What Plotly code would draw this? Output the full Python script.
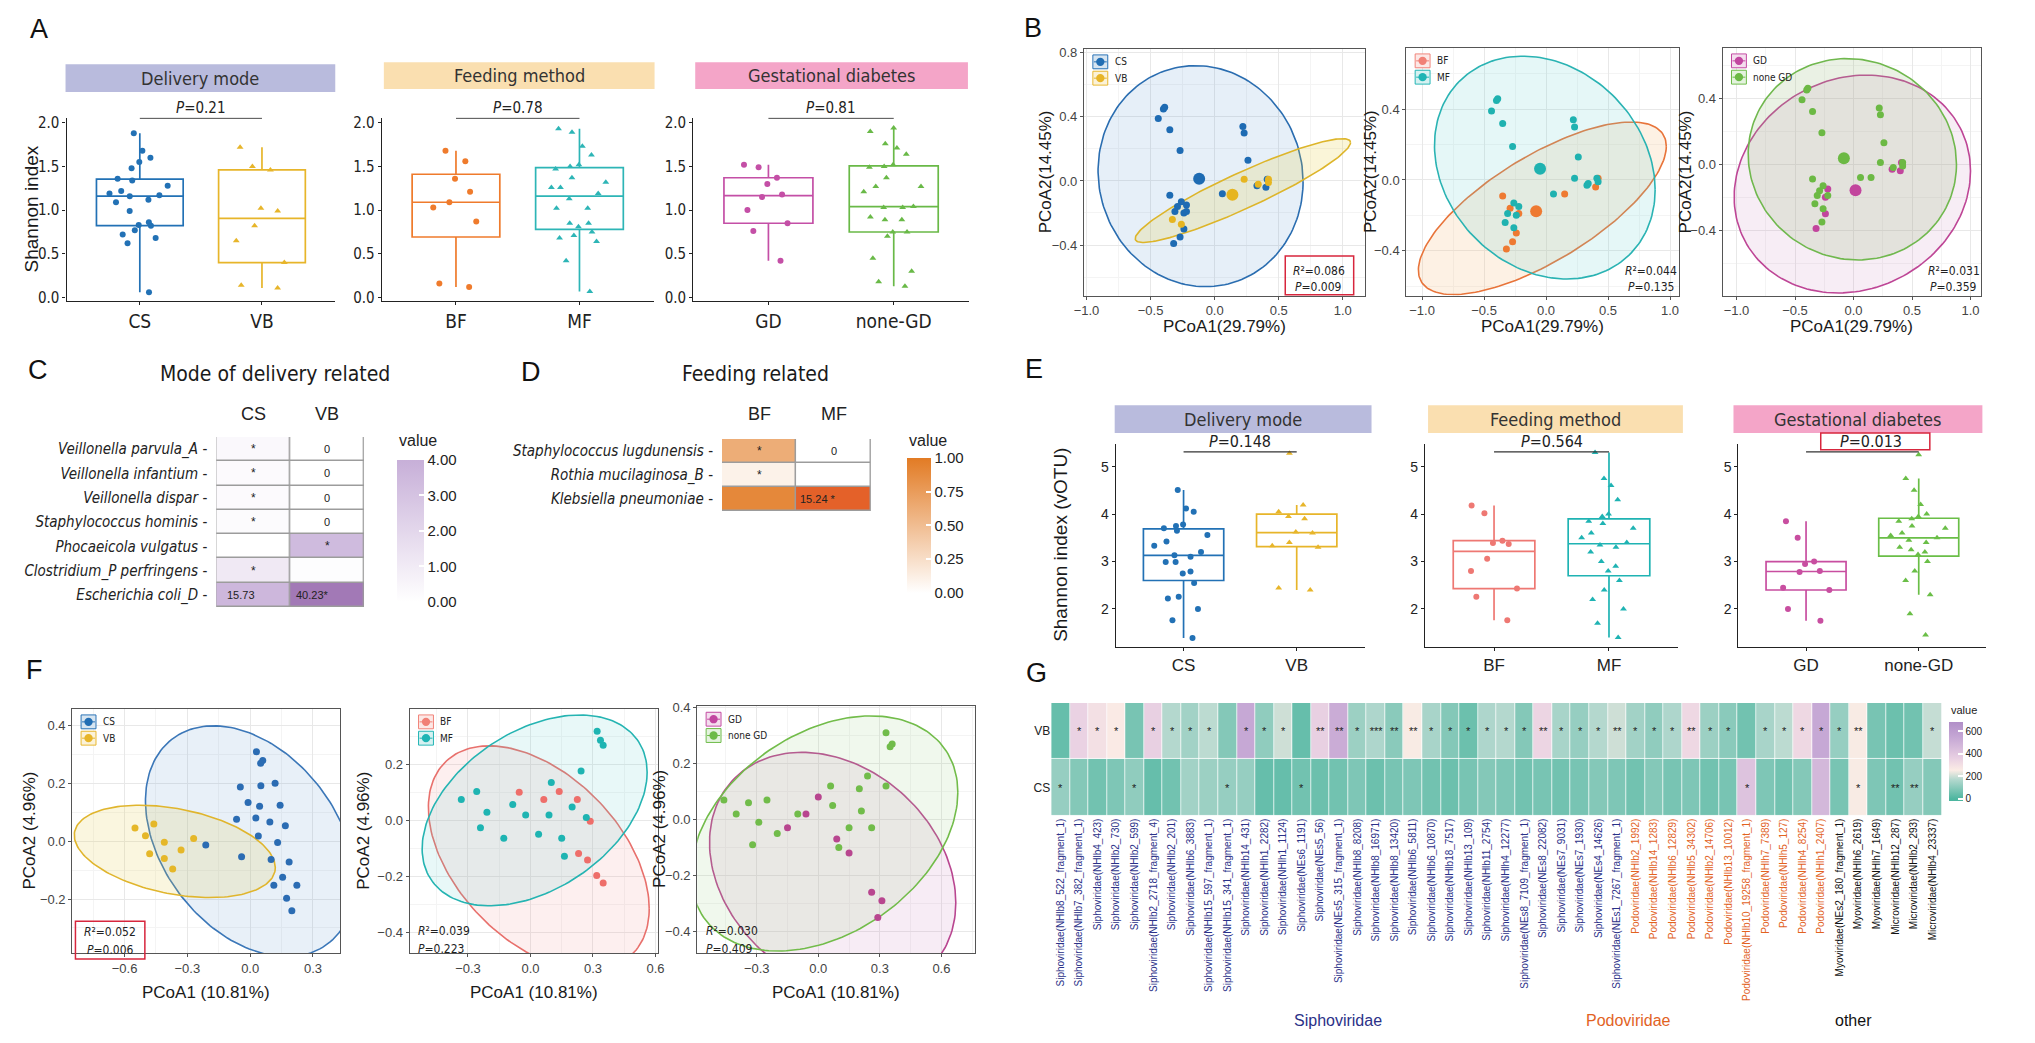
import numpy as np
import plotly.graph_objects as go

W, H = 2035, 1043
FONT = "Liberation Sans, Arial, Helvetica, sans-serif"
NARROW = "Liberation Sans Narrow, Arial Narrow, DejaVu Sans Condensed, Liberation Sans, sans-serif"

# ======================= DATA =======================
# ---- Panel A : Shannon index ----
A_LABELS = [["CS", "VB"], ["BF", "MF"], ["GD", "none-GD"]]
A_CS = [1.88, 1.68, 1.60, 1.55, 1.48, 1.36, 1.34, 1.28, 1.22, 1.19, 1.17, 1.16, 1.12, 1.09, 0.99, 0.86, 0.83, 0.82, 0.77, 0.72, 0.68, 0.62, 0.06]
A_VB = [1.72, 1.50, 1.46, 1.02, 0.99, 0.82, 0.65, 0.40, 0.14, 0.11]
A_BF = [1.68, 1.56, 1.36, 1.21, 1.09, 1.03, 0.87, 0.16, 0.12]
A_MF = [1.93, 1.89, 1.73, 1.63, 1.52, 1.50, 1.47, 1.37, 1.32, 1.26, 1.26, 1.19, 1.13, 1.02, 1.02, 0.85, 0.85, 0.81, 0.75, 0.71, 0.68, 0.64, 0.42, 0.07]
A_GD = [1.52, 1.49, 1.37, 1.30, 1.18, 1.15, 1.00, 0.85, 0.76, 0.42]
A_NONEGD = [1.94, 1.90, 1.76, 1.71, 1.64, 1.52, 1.50, 1.49, 1.37, 1.27, 1.27, 1.21, 1.04, 1.03, 1.03, 0.92, 0.89, 0.89, 0.75, 0.75, 0.70, 0.45, 0.30, 0.18, 0.13]
A_TICKS = [0.0, 0.5, 1.0, 1.5, 2.0]
A_P = ["0.21", "0.78", "0.81"]
STRIPS = ["Delivery mode", "Feeding method", "Gestational diabetes"]

# ---- Panel B : PCoA (shared coordinates, three groupings) ----
B_PC1 = [-0.40, -0.39, -0.44, -0.35, -0.27, 0.22, 0.23, 0.26, -0.35, -0.26, -0.29, -0.22, -0.31, -0.22, -0.24,
         -0.24, -0.27, -0.32, 0.06, 0.33, 0.40, 0.41, -0.33, -0.26, 0.15, 0.23, 0.34, 0.42, 0.42]
B_PC2 = [0.45, 0.46, 0.39, 0.32, 0.19, 0.34, 0.30, 0.13, -0.09, -0.13, -0.16, -0.15, -0.19, -0.19, -0.20,
         -0.30, -0.35, -0.39, -0.08, -0.03, -0.04, 0.01, -0.24, -0.27, -0.08, 0.01, -0.02, 0.01, -0.01]
B_DELIVERY = ["CS", "CS", "CS", "CS", "CS", "CS", "CS", "CS", "CS", "CS", "CS", "CS", "CS", "CS", "CS",
              "CS", "CS", "CS", "CS", "CS", "CS", "CS", "VB", "VB", "VB", "VB", "VB", "VB", "VB"]
B_FEEDING = ["MF", "MF", "MF", "MF", "MF", "MF", "MF", "MF", "BF", "MF", "BF", "MF", "MF", "BF", "MF",
             "BF", "BF", "BF", "MF", "MF", "BF", "MF", "MF", "MF", "BF", "MF", "MF", "BF", "MF"]
B_GDM = ["none GD", "none GD", "none GD", "none GD", "none GD", "none GD", "none GD", "none GD", "none GD",
         "none GD", "none GD", "GD", "none GD", "none GD", "GD", "GD", "none GD", "GD", "none GD", "GD", "GD",
         "GD", "none GD", "none GD", "none GD", "none GD", "none GD", "none GD", "none GD"]
B_STATS = [("0.086", "0.009"), ("0.044", "0.135"), ("0.031", "0.359")]
# confidence ellipses: (centre x, centre y, half-extent x, half-extent y, correlation)
B_ELL_CS = (-0.11, 0.03, 0.80, 0.69, -0.05)
B_ELL_VB = (0.22, -0.06, 0.84, 0.324, 0.925)
B_ELL_BF = (-0.03, -0.16, 1.00, 0.488, 0.717)
B_ELL_MF = (-0.01, 0.07, 0.89, 0.63, -0.20)
B_ELL_GD = (-0.01, -0.12, 1.01, 0.66, 0.12)
B_ELL_NONEGD = (-0.01, 0.03, 0.89, 0.61, -0.05)

# ---- Panel C : delivery-related species ----
C_SPECIES = ["Veillonella parvula_A", "Veillonella infantium", "Veillonella dispar", "Staphylococcus hominis",
             "Phocaeicola vulgatus", "Clostridium_P perfringens", "Escherichia coli_D"]
C_GROUPS = ["CS", "VB"]
C_CS = [0.35, 0.25, 0.25, 0.20, 0.0, 1.1, 3.6]
C_VB = [0.0, 0.0, 0.0, 0.0, 3.4, 0.12, 5.0]
C_CS_TEXT = ["*", "*", "*", "*", "", "*", "15.73"]
C_VB_TEXT = ["0", "0", "0", "0", "*", "", "40.23*"]

# ---- Panel D : feeding-related species ----
D_SPECIES = ["Staphylococcus lugdunensis", "Rothia mucilaginosa_B", "Klebsiella pneumoniae"]
D_GROUPS = ["BF", "MF"]
D_BF = [0.62, 0.10, 0.90]
D_MF = [0.0, 0.0, 1.15]
D_BF_TEXT = ["*", "*", ""]
D_MF_TEXT = ["0", "", "15.24 *"]

# ---- Panel E : Shannon index (vOTU) ----
E_CS = [4.51, 4.12, 4.05, 3.78, 3.75, 3.70, 3.65, 3.56, 3.42, 3.33, 3.20, 3.10, 3.13, 2.99, 2.99, 2.79, 2.75, 2.55, 2.26, 2.22, 2.00, 1.76, 1.39]
E_VB = [5.28, 4.19, 4.05, 3.95, 3.90, 3.62, 3.60, 3.40, 3.33, 3.30, 2.44, 2.40]
E_BF = [4.18, 4.02, 3.44, 3.39, 3.37, 3.06, 2.80, 2.43, 2.26, 1.76]
E_MF = [5.30, 4.75, 4.60, 4.30, 4.00, 3.95, 3.85, 3.80, 3.70, 3.60, 3.50, 3.40, 3.35, 3.30, 3.20, 3.00, 2.90, 2.80, 2.60, 2.40, 2.20, 2.00, 1.70, 1.40]
E_GD = [3.85, 3.50, 3.00, 2.95, 2.80, 2.78, 2.45, 2.40, 2.00, 1.75]
E_NONEGD = [5.25, 4.75, 4.50, 4.20, 4.00, 3.95, 3.90, 3.85, 3.75, 3.70, 3.60, 3.55, 3.50, 3.45, 3.40, 3.30, 3.25, 3.20, 3.15, 3.00, 2.80, 2.60, 2.30, 1.90, 1.45]
E_TICKS = [2, 3, 4, 5]
E_P = ["0.148", "0.564", "0.013"]

# ---- Panel F : PCoA (vOTU) ----
F1_CS_X = [0.03, 0.06, 0.05, -0.047, 0.051, 0.119, -0.010, 0.045, 0.143, -0.065, 0.027, 0.094, 0.168, -0.212, 0.039,
           0.131, -0.041, 0.100, 0.186, 0.155, 0.113, 0.223, 0.174, 0.199]
F1_CS_Y = [0.31, 0.28, 0.27, 0.188, 0.192, 0.201, 0.134, 0.121, 0.125, 0.076, 0.081, 0.067, 0.054, -0.013, 0.018,
           -0.004, -0.054, -0.063, -0.072, -0.125, -0.152, -0.152, -0.197, -0.241]
F1_VB_X = [-0.55, -0.50, -0.46, -0.41, -0.48, -0.41, -0.33, -0.27, -0.37]
F1_VB_Y = [0.046, 0.019, 0.06, -0.003, -0.043, -0.06, -0.03, 0.01, -0.096]
F2_BF_X = [0.064, 0.138, 0.225, 0.287, 0.231, 0.274, 0.318, 0.349, -0.054]
F2_BF_Y = [0.074, 0.102, 0.074, -0.004, -0.119, -0.142, -0.197, -0.224, 0.10]
F2_MF_X = [0.32, 0.336, 0.349, 0.243, 0.10, -0.258, -0.332, -0.209, -0.085, -0.023, 0.089, 0.20, 0.268, -0.24,
           -0.128, 0.039, 0.150, 0.163]
F2_MF_Y = [0.317, 0.285, 0.267, 0.175, 0.134, 0.102, 0.074, 0.028, 0.056, 0.019, 0.019, 0.047, 0.010, -0.027,
           -0.064, -0.05, -0.064, -0.128]
F3_GD_X = [0.0, -0.06, -0.15, 0.09, 0.15, 0.26, 0.31, 0.29]
F3_GD_Y = [0.08, 0.02, -0.03, -0.07, -0.12, -0.26, -0.29, -0.35]
F3_NONEGD_X = [0.33, 0.36, 0.35, 0.24, 0.33, 0.06, -0.46, -0.40, -0.34, -0.25, -0.29, -0.20, -0.32, 0.07, 0.20,
               0.21, 0.15, 0.26, 0.10, -0.10]
F3_NONEGD_Y = [0.31, 0.27, 0.26, 0.155, 0.12, 0.12, 0.07, 0.02, 0.06, 0.07, -0.01, -0.05, -0.09, 0.05, 0.11,
               0.03, -0.03, -0.03, -0.10, 0.02]
F_STATS = [("0.052", "0.006"), ("0.039", "0.223"), ("0.030", "0.409")]
F1_ELL_CS = (0.0, 0.0, 0.50, 0.40, -0.35)
F1_ELL_VB = (-0.36, -0.035, 0.48, 0.16, -0.35)
F2_ELL_BF = (0.04, -0.135, 0.53, 0.40, -0.45)
F2_ELL_MF = (0.02, 0.035, 0.54, 0.34, 0.40)
F3_ELL_GD = (0.07, -0.19, 0.60, 0.43, -0.25)
F3_ELL_NONEGD = (0.03, -0.05, 0.65, 0.42, 0.35)

# ---- Panel G : vOTU heatmap ----
G_LABELS = [
    "Siphoviridae(NHlb8_522_fragment_1)", "Siphoviridae(NHlb7_382_fragment_1)", "Siphoviridae(NHlb4_423)",
    "Siphoviridae(NHlb2_730)", "Siphoviridae(NHlb2_599)", "Siphoviridae(NHlb2_2718_fragment_4)",
    "Siphoviridae(NHlb2_201)", "Siphoviridae(NHlb6_3883)", "Siphoviridae(NHlb15_597_fragment_1)",
    "Siphoviridae(NHlb15_341_fragment_1)", "Siphoviridae(NHlb14_431)", "Siphoviridae(NHlh1_2282)",
    "Siphoviridae(NHlh1_1124)", "Siphoviridae(NEs6_1191)", "Siphoviridae(NEs5_56)",
    "Siphoviridae(NEs5_315_fragment_1)", "Siphoviridae(NHlb8_8208)", "Siphoviridae(NHlb8_16971)",
    "Siphoviridae(NHlb8_13420)", "Siphoviridae(NHlb6_5811)", "Siphoviridae(NHlb6_10870)",
    "Siphoviridae(NHlb18_7517)", "Siphoviridae(NHlb13_109)", "Siphoviridae(NHlb11_2754)",
    "Siphoviridae(NHlh4_12277)", "Siphoviridae(NEs8_7109_fragment_1)", "Siphoviridae(NEs8_22082)",
    "Siphoviridae(NEs7_9031)", "Siphoviridae(NEs7_1930)", "Siphoviridae(NEs4_14626)",
    "Siphoviridae(NEs1_7267_fragment_1)", "Podoviridae(NHlb2_1992)", "Podoviridae(NHlb14_1283)",
    "Podoviridae(NHlb6_12829)", "Podoviridae(NHlb5_34302)", "Podoviridae(NHlb2_14706)",
    "Podoviridae(NHlb13_10012)", "Podoviridae(NHlb10_19258_fragment_1)", "Podoviridae(NHlh7_7389)",
    "Podoviridae(NHlh5_127)", "Podoviridae(NHlh4_8254)", "Podoviridae(NHlh1_2407)",
    "Myoviridae(NEs2_180_fragment_1)", "Myoviridae(NHlh6_2619)", "Myoviridae(NHlh7_1649)",
    "Microviridae(NHlb12_287)", "Microviridae(NHlb2_293)", "Microviridae(NHlb4_23337)"]
G_VB = [40, 350, 300, 260, 70, 360, 170, 140, 180, 90, 540, 110, 200, 40, 360, 520, 130, 160, 100, 250, 150, 90,
        50, 160, 170, 90, 340, 150, 120, 170, 200, 140, 110, 160, 330, 130, 100, 60, 150, 180, 330, 540, 120, 250,
        70, 50, 60, 190]
G_CS = [120, 90, 60, 80, 110, 40, 60, 140, 130, 120, 120, 40, 40, 60, 50, 60, 80, 50, 70, 80, 60, 50, 70, 90, 80,
        60, 70, 60, 70, 90, 80, 60, 90, 70, 80, 60, 70, 420, 80, 60, 90, 470, 70, 250, 80, 60, 120, 90]
G_VB_SIG = ["", "*", "*", "*", "", "*", "*", "*", "*", "", "*", "*", "*", "", "**", "**", "*", "***", "**", "**",
            "*", "*", "*", "*", "*", "*", "**", "*", "*", "*", "**", "*", "*", "*", "**", "*", "*", "", "*", "*",
            "*", "*", "*", "**", "", "", "", "*"]
G_CS_SIG = ["*", "", "", "", "*", "", "", "", "", "*", "", "", "", "*", "", "", "", "", "", "", "", "", "", "",
            "", "", "", "", "", "", "", "", "", "", "", "", "", "*", "", "", "", "", "", "*", "", "**", "**", ""]
G_FAMILY_COLORS = {"Siphoviridae": "#2B3188", "Podoviridae": "#E2631F", "Myoviridae": "#111111",
                   "Microviridae": "#111111"}

# ======================= FIGURE =======================
fig = go.Figure()
AX, SH, AN = {}, [], []


def px(x):
    return x / W


def py(y):
    return 1 - y / H


def names(i):
    return ("x" if i == 1 else f"x{i}"), ("y" if i == 1 else f"y{i}")


def set_axes(i, l, r, t, b, xo, yo):
    xn, yn = names(i)
    AX["xaxis" if i == 1 else f"xaxis{i}"] = dict(domain=[px(l), px(r)], anchor=yn, **xo)
    AX["yaxis" if i == 1 else f"yaxis{i}"] = dict(domain=[py(b), py(t)], anchor=xn, **yo)


def note(x, y, text, size=14, family=FONT, color="#1a1a1a", xa="center", ya="middle", angle=0):
    AN.append(dict(xref="paper", yref="paper", x=px(x), y=py(y), text=text, showarrow=False,
                   xanchor=xa, yanchor=ya, textangle=angle,
                   font=dict(family=family, size=size, color=color)))


def rect(x0, y0, x1, y1, fill="rgba(0,0,0,0)", line="rgba(0,0,0,0)", lw=0, layer="above"):
    SH.append(dict(type="rect", xref="paper", yref="paper", x0=px(x0), x1=px(x1), y0=py(y1), y1=py(y0),
                   fillcolor=fill, line=dict(color=line, width=lw), layer=layer))


def ellipse_xy(cx, cy, rx, ry, rho, n=180):
    t = np.linspace(0, 2 * np.pi, n)
    return cx + rx * np.cos(t), cy + ry * (rho * np.cos(t) + np.sqrt(1 - rho ** 2) * np.sin(t))


# ---------- box panels (A and E) ----------
def box_panel(i, l, r, t, b, yrange, yticks, yfmt, labels, groups, pval, by, xfont, yfont, pfont, pbox=None,
              pshift=0.0):
    xn, yn = names(i)
    for k, (vals, color, sym) in enumerate(groups):
        fig.add_trace(go.Box(y=vals, x0=k, width=0.71, xaxis=xn, yaxis=yn, boxpoints="all", jitter=0.75,
                             pointpos=0, whiskerwidth=0, fillcolor="rgba(255,255,255,0)",
                             line=dict(color=color, width=1.7),
                             marker=dict(color=color, symbol=sym, size=6, line=dict(width=0)),
                             hoverinfo="skip", showlegend=False))
    xo = dict(type="linear", range=[-0.6, 1.6], tickvals=[0, 1], ticktext=labels, showline=True,
              linecolor="#222", linewidth=1.3, ticks="outside", ticklen=3, tickcolor="#222", showgrid=False,
              zeroline=False, tickfont=xfont)
    yo = dict(range=yrange, tickvals=yticks, ticktext=[yfmt.format(v) for v in yticks], showline=True,
              linecolor="#222", linewidth=1.3, ticks="outside", ticklen=3, tickcolor="#222", showgrid=False,
              zeroline=False, tickfont=yfont)
    set_axes(i, l, r, t, b, xo, yo)
    SH.append(dict(type="line", xref=xn, yref=yn, x0=0, x1=1, y0=by, y1=by, line=dict(color="#333", width=1.3)))
    AN.append(dict(xref=xn, yref=yn, x=0.5 + pshift, y=by, yanchor="bottom", xanchor="center", showarrow=False,
                   text=f"<i>P</i>={pval}", font=pfont, yshift=-1))
    if pbox:
        rect(*pbox, line="#D7263D", lw=1.5)


# Panel A
C_BLUE, C_GOLD = "#2271B5", "#E7B52A"
A_COLS = [(A_CS, C_BLUE, "circle"), (A_VB, C_GOLD, "triangle-up"),
          (A_BF, "#EF7B2C", "circle"), (A_MF, "#2DB5B6", "triangle-up"),
          (A_GD, "#C44FA6", "circle"), (A_NONEGD, "#69B947", "triangle-up")]
A_BOX = [(57, 328), (375, 649), (689, 967)]
A_STRIP = [((56, 59, 328, 87), "#B9BBDD"), ((377, 57, 650, 84), "#FADFB0"), ((691, 57, 966, 84), "#F4A5C8")]
A_YR = [-3 / 88.5, 182 / 88.5]
for k in range(3):
    l, r = A_BOX[k]
    box_panel(k + 1, l, r, 113, 298, A_YR, A_TICKS, "{:.1f}", A_LABELS[k],
              [A_COLS[2 * k], A_COLS[2 * k + 1]], A_P[k], 2.052,
              dict(family=NARROW, size=19, color="#222"), dict(family=NARROW, size=15, color="#222"),
              dict(family=NARROW, size=15, color="#222"))
    (sx0, sy0, sx1, sy1), scol = A_STRIP[k]
    rect(sx0, sy0, sx1, sy1, fill=scol, layer="below")
    note((sx0 + sx1) / 2, (sy0 + sy1) / 2, STRIPS[k], size=18, family=NARROW, color="#333")
note(22, 205, "Shannon index", size=19, angle=-90)

# Panel E
E_COLS = [(E_CS, C_BLUE, "circle"), (E_VB, C_GOLD, "triangle-up"),
          (E_BF, "#EE7873", "circle"), (E_MF, "#1FB3B3", "triangle-up"),
          (E_GD, "#C84EA0", "circle"), (E_NONEGD, "#6ABE47", "triangle-up")]
E_BOX = [(1115, 1366), (1427, 1682), (1743, 1993)]
E_STRIP = [((1114, 404, 1373, 432), "#B9BBDD"), ((1430, 404, 1687, 432), "#FADFB0"),
           ((1738, 404, 1989, 432), "#F4A5C8")]
E_YR = [5 - (648 - 466) / 48, 5 + (466 - 443) / 48]
for k in range(3):
    l, r = E_BOX[k]
    box_panel(k + 9, l, r, 443, 648, E_YR, E_TICKS, "{:d}", A_LABELS[k],
              [E_COLS[2 * k], E_COLS[2 * k + 1]], E_P[k], 5.31,
              dict(family=FONT, size=17, color="#222"), dict(family=FONT, size=14, color="#222"),
              dict(family=NARROW, size=16, color="#222"),
              pbox=(1826, 432, 1936, 449) if k == 2 else None, pshift=0.08 if k == 2 else 0.0)
    (sx0, sy0, sx1, sy1), scol = E_STRIP[k]
    rect(sx0, sy0, sx1, sy1, fill=scol, layer="below")
    note((sx0 + sx1) / 2, (sy0 + sy1) / 2, STRIPS[k], size=18, family=NARROW, color="#333")
note(1060, 545, "Shannon index (vOTU)", size=19, angle=-90)


# ---------- PCoA panels (B and F) ----------
def key(x0, y0, color, label):
    rect(x0, y0, x0 + 15, y0 + 14, fill="rgba(255,255,255,1)", line=color, lw=1)
    rect(x0 + 0.5, y0 + 0.5, x0 + 14.5, y0 + 13.5, fill=color.replace("1)", "0.18)"), lw=0)
    SH.append(dict(type="line", xref="paper", yref="paper", x0=px(x0 + 1), x1=px(x0 + 14), y0=py(y0 + 7),
                   y1=py(y0 + 7), line=dict(color=color, width=1)))
    SH.append(dict(type="circle", xref="paper", yref="paper", x0=px(x0 + 3.3), x1=px(x0 + 11.7),
                   y0=py(y0 + 11.2), y1=py(y0 + 2.8), fillcolor=color, line=dict(width=0)))
    note(x0 + 20, y0 + 7, label, size=10, family=NARROW, color="#222", xa="left")


def pcoa(i, frame, xr, yr, groups, dt, mdt, tfont, centroid, msize, stats, spos, sanchor, keys, ylab, xlab,
         ylab_x, xlab_y, tsize):
    l, r, t, b = frame
    xn, yn = names(i)
    com = dict(showline=True, mirror=True, linecolor="#555555", linewidth=1, showgrid=True, gridcolor="#e8e8e8",
               gridwidth=1, zeroline=False, ticks="outside", ticklen=3, tickcolor="#555555", tick0=0,
               tickformat=".1f", tickfont=dict(family=FONT, size=tfont, color="#444444"))
    set_axes(i, l, r, t, b,
             dict(range=xr, dtick=dt[0], minor=dict(dtick=mdt[0], showgrid=True, gridcolor="#f4f4f4"), **com),
             dict(range=yr, dtick=dt[1], minor=dict(dtick=mdt[1], showgrid=True, gridcolor="#f4f4f4"), **com))
    for g in groups:
        ex, ey = ellipse_xy(*g["ell"])
        fig.add_trace(go.Scatter(x=ex, y=ey, mode="lines", fill="toself", fillcolor=g["fill"],
                                 line=dict(color=g["line"], width=1.6), xaxis=xn, yaxis=yn,
                                 hoverinfo="skip", showlegend=False))
    for g in groups:
        fig.add_trace(go.Scatter(x=g["x"], y=g["y"], mode="markers", marker=dict(color=g["color"], size=msize),
                                 xaxis=xn, yaxis=yn, hoverinfo="skip", showlegend=False))
    if centroid:
        for g in groups:
            fig.add_trace(go.Scatter(x=[np.mean(g["x"])], y=[np.mean(g["y"])], mode="markers",
                                     marker=dict(color=g["color"], size=12), xaxis=xn, yaxis=yn,
                                     hoverinfo="skip", showlegend=False))
    (sx, sy1, sy2) = spos
    note(sx, sy1, f"<i>R</i>²={stats[0]}", size=12, family=NARROW, color="#222", xa=sanchor)
    note(sx, sy2, f"<i>P</i>={stats[1]}", size=12, family=NARROW, color="#222", xa=sanchor)
    for kk, (kc, kl) in enumerate(keys):
        key(l + 9, t + 6.5 + kk * 16.5, kc, kl)
    note(ylab_x, (t + b) / 2, ylab, size=tsize, angle=-90)
    note((l + r) / 2, xlab_y, xlab, size=tsize)


def pick(values, labels, which):
    return [v for v, lab in zip(values, labels) if lab == which]


KB, KG = "rgba(34,110,180,1)", "rgba(231,181,40,1)"
KS, KT = "rgba(241,128,118,1)", "rgba(30,180,180,1)"
KM, KN = "rgba(194,70,160,1)", "rgba(108,186,70,1)"

B_FRAMES = [(1083, 1366, 43, 293), (1408, 1683, 42, 293), (1727, 1988, 42, 293)]
B_XR = [(-1.02, 1.17), (-1.128, 1.072), (-1.119, 1.093)]
B_YR = [(-0.716, 0.827), (-0.654, 0.749), (-0.796, 0.707)]
B_GROUPINGS = [
    [dict(lab=B_DELIVERY, v="CS", ell=B_ELL_CS, color="#1E6BB3", line="#2A6DB0", fill="rgba(60,130,200,0.13)"),
     dict(lab=B_DELIVERY, v="VB", ell=B_ELL_VB, color="#E6B520", line="#DDB52A", fill="rgba(230,205,60,0.20)")],
    [dict(lab=B_FEEDING, v="BF", ell=B_ELL_BF, color="#EE7A32", line="#E8743A", fill="rgba(248,190,130,0.22)"),
     dict(lab=B_FEEDING, v="MF", ell=B_ELL_MF, color="#1FB2B0", line="#2AB3B3", fill="rgba(110,210,210,0.18)")],
    [dict(lab=B_GDM, v="GD", ell=B_ELL_GD, color="#C2459D", line="#BE4696", fill="rgba(205,140,195,0.16)"),
     dict(lab=B_GDM, v="none GD", ell=B_ELL_NONEGD, color="#6CB944", line="#70B84E", fill="rgba(150,185,120,0.20)")]]
B_KEYS = [[(KB, "CS"), (KG, "VB")], [(KS, "BF"), (KT, "MF")], [(KM, "GD"), (KN, "none GD")]]
B_YLAB_X = [1044, 1372, 1690]
B_STAT_X = [1320, 1655, 1960]
for k in range(3):
    groups = []
    for g in B_GROUPINGS[k]:
        groups.append(dict(x=pick(B_PC1, g["lab"], g["v"]), y=pick(B_PC2, g["lab"], g["v"]), ell=g["ell"],
                           color=g["color"], line=g["line"], fill=g["fill"]))
    pcoa(k + 4, B_FRAMES[k], B_XR[k], B_YR[k], groups, (0.5, 0.4), (0.25, 0.2), 13, True, 7, B_STATS[k],
         (B_STAT_X[k], 268, 284), "center", B_KEYS[k], "PCoA2(14.45%)", "PCoA1(29.79%)", B_YLAB_X[k], 324, 17)
rect(1286, 253, 1355, 292, line="#D7263D", lw=1.5)

F_FRAMES = [(62.7, 333, 710.7, 958), (403, 653, 710.7, 958), (693, 973, 708, 958)]
F_XR = [(-0.85, 0.43), (-0.58, 0.61), (-0.59, 0.763)]
F_YR = [(-0.387, 0.46), (-0.473, 0.398), (-0.477, 0.406)]
F_GROUPS = [
    [dict(x=F1_CS_X, y=F1_CS_Y, ell=F1_ELL_CS, color="#2B6CB3", line="#3B77B8", fill="rgba(80,140,200,0.13)"),
     dict(x=F1_VB_X, y=F1_VB_Y, ell=F1_ELL_VB, color="#E5B729", line="#E0B52D", fill="rgba(230,205,80,0.18)")],
    [dict(x=F2_BF_X, y=F2_BF_Y, ell=F2_ELL_BF, color="#EE6E6A", line="#E8706C", fill="rgba(240,150,150,0.15)"),
     dict(x=F2_MF_X, y=F2_MF_Y, ell=F2_ELL_MF, color="#1EB4B2", line="#25B4B2", fill="rgba(100,210,210,0.15)")],
    [dict(x=F3_GD_X, y=F3_GD_Y, ell=F3_ELL_GD, color="#B8468F", line="#B94690", fill="rgba(200,130,190,0.15)"),
     dict(x=F3_NONEGD_X, y=F3_NONEGD_Y, ell=F3_ELL_NONEGD, color="#71BC4A", line="#72BC4A",
          fill="rgba(160,210,140,0.16)")]]
F_KEYS = [[(KB, "CS"), (KG, "VB")], [(KS, "BF"), (KT, "MF")], [(KM, "GD"), (KN, "none GD")]]
F_YLAB_X = [20, 357, 655]
F_STAT_POS = [(101, 937, 955), (409, 936, 954), (700, 936, 954)]
for k in range(3):
    pcoa(k + 12, F_FRAMES[k], F_XR[k], F_YR[k], F_GROUPS[k], (0.3, 0.2), (0.15, 0.1), 13, False, 7, F_STATS[k],
         F_STAT_POS[k], "center" if k == 0 else "left", F_KEYS[k], "PCoA2 (4.96%)", "PCoA1 (10.81%)",
         F_YLAB_X[k], 998, 17)
rect(66, 926, 136, 964, line="#D7263D", lw=1.5)


# ---------- heatmaps C and D ----------
def small_heat(i, frame, species, groups, cols, texts, scale, zmax, offs, header_y):
    l, r, t, b = frame
    xn, yn = names(i)
    n = len(species)
    z = [[cols[0][j], cols[1][j]] for j in range(n)]
    SH.append(dict(type="rect", xref=xn, yref=yn, x0=-0.5, x1=1.5, y0=-0.5, y1=n - 0.5, fillcolor="#9c9c9c",
                   line=dict(color="#9c9c9c", width=1.5), layer="below"))
    fig.add_trace(go.Heatmap(z=z, x=[0, 1], y=list(range(n)), colorscale=scale, zmin=0, zmax=zmax,
                             showscale=False, xgap=1.5, ygap=1.5, xaxis=xn, yaxis=yn, hoverinfo="skip"))
    set_axes(i, l, r, t, b,
             dict(range=[-0.5, 1.5], showticklabels=False, showgrid=False, zeroline=False, ticks=""),
             dict(range=[n - 0.5, -0.5], tickvals=list(range(n)), ticktext=[f"<i>{s}</i> -" for s in species],
                  ticks="", showgrid=False, zeroline=False, ticklabelstandoff=8,
                  tickfont=dict(family=NARROW, size=15, color="#222")))
    for c in range(2):
        AN.append(dict(xref=xn, yref="paper", x=c, y=py(header_y), text=groups[c], showarrow=False,
                       font=dict(family=FONT, size=18, color="#222")))
        for j in range(n):
            s = texts[c][j]
            if not s:
                continue
            if len(s) > 2:
                AN.append(dict(xref=xn, yref=yn, x=c - 0.5 + offs[c], y=j, text=s, showarrow=False,
                               xanchor="left", font=dict(family=FONT, size=11, color="#222")))
            else:
                AN.append(dict(xref=xn, yref=yn, x=c, y=j, text=s, showarrow=False,
                               font=dict(family=FONT, size=12 if s == "*" else 11, color="#222")))


C_SCALE = [[0, "#ffffff"], [0.8, "#c7afd8"], [1, "#a279b6"]]
C_BAR = [[0, "#ffffff"], [1, "#c7afd8"]]
D_SCALE = [[0, "#ffffff"], [1 / 1.2, "#e27b24"], [1, "#e4582a"]]
D_BAR = [[0, "#ffffff"], [1, "#e27b24"]]
small_heat(7, (208, 357, 436, 608), C_SPECIES, C_GROUPS, [C_CS, C_VB], [C_CS_TEXT, C_VB_TEXT], C_SCALE, 5.0,
           (0.12, 0.05), 413)
small_heat(8, (718, 868, 438, 511), D_SPECIES, D_GROUPS, [D_BF, D_MF], [D_BF_TEXT, D_MF_TEXT], D_SCALE, 1.2,
           (0.05, 0.02), 413)
note(267, 372, "Mode of delivery related", size=21, family=NARROW)
note(752, 372, "Feeding related", size=21, family=NARROW)

# ---------- heatmap G ----------
G_SCALE = [[0, "#4cb59f"], [0.03, "#4fb6a0"], [0.27, "#b3d8ce"], [0.39, "#fbece5"], [0.53, "#ead2e3"],
           [0.80, "#c6a8d5"], [1, "#b18fc8"]]
ng = len(G_LABELS)
fig.add_trace(go.Heatmap(z=[G_CS, G_VB], x=list(range(ng)), y=[0, 1], text=[G_CS_SIG, G_VB_SIG],
                         texttemplate="%{text}", textfont=dict(family=FONT, size=11, color="#222"),
                         colorscale=G_SCALE, zmin=-20, zmax=680, showscale=False, xgap=0.8, ygap=0.8,
                         xaxis="x15", yaxis="y15", hoverinfo="skip"))
g_ticktext = [f"<span style='color:{G_FAMILY_COLORS[s.split('(')[0]]}'>{s}</span>" for s in G_LABELS]
set_axes(15, 1050, 1948, 705, 819,
         dict(range=[-0.5, ng - 0.5], tickvals=list(range(ng)), ticktext=g_ticktext, tickangle=-90, ticks="",
              showgrid=False, zeroline=False, tickfont=dict(family=FONT, size=10)),
         dict(range=[-0.5, 1.5], tickvals=[0, 1], ticktext=["CS", "VB"], ticks="", showgrid=False,
              zeroline=False, tickfont=dict(family=FONT, size=12, color="#222")))
note(1339, 1026, "Siphoviridae", size=16, color="#2B3188")
note(1632, 1026, "Podoviridae", size=16, color="#E2631F")
note(1859, 1026, "other", size=16, color="#111")

# ---------- colour bars (hidden helper axis 16) ----------
AX["xaxis16"] = dict(domain=[0, 0.001], range=[0, 1], visible=False, anchor="y16")
AX["yaxis16"] = dict(domain=[0, 0.001], range=[0, 1], visible=False, anchor="x16")


def colorbar(scale, cmin, cmax, x, yc, length, thick, tickvals, fmt, fsize, title_y, tsize):
    fig.add_trace(go.Scatter(
        x=[5, 5], y=[5, 5], mode="markers", xaxis="x16", yaxis="y16", hoverinfo="skip", showlegend=False,
        marker=dict(color=[cmin, cmax], colorscale=scale, cmin=cmin, cmax=cmax, size=1, showscale=True,
                    colorbar=dict(x=px(x), xanchor="left", xpad=0, ypad=0, y=py(yc), yanchor="middle",
                                  len=length, lenmode="pixels", thickness=thick, thicknessmode="pixels",
                                  outlinewidth=0, tickvals=tickvals, ticktext=[fmt.format(v) for v in tickvals],
                                  ticks="inside", ticklen=5, tickcolor="white", tickwidth=1.5,
                                  tickfont=dict(family=FONT, size=fsize, color="#222")))))
    note(x, title_y, "value", size=tsize, color="#222", xa="left")


colorbar(C_BAR, 0, 4, 390, 531, 142, 27, [0, 1, 2, 3, 4], "{:.2f}", 15, 440, 16)
colorbar(D_BAR, 0, 1, 905, 525.5, 135, 24, [0, 0.25, 0.5, 0.75, 1.0], "{:.2f}", 15, 440, 16)
colorbar(G_SCALE, -20, 680, 1955, 764.5, 79, 14, [0, 200, 400, 600], "{:d}", 10, 712, 11)

# ---------- panel letters ----------
for letter, (lx, ly) in zip("ABCDEFG", [(29, 23), (1032, 22), (28, 368), (525, 370), (1033, 367), (25, 672),
                                         (1035, 675)]):
    note(lx, ly, letter, size=27, color="#111")

fig.update_layout(width=W, height=H, autosize=False, margin=dict(l=0, r=0, t=0, b=0, pad=0),
                  paper_bgcolor="white", plot_bgcolor="white", showlegend=False,
                  font=dict(family=FONT, color="#222"), shapes=SH, annotations=AN, **AX)
fig.write_html("out.html", config={"displayModeBar": False},
               post_script="document.body.style.margin='0px';document.body.style.overflow='hidden';")
